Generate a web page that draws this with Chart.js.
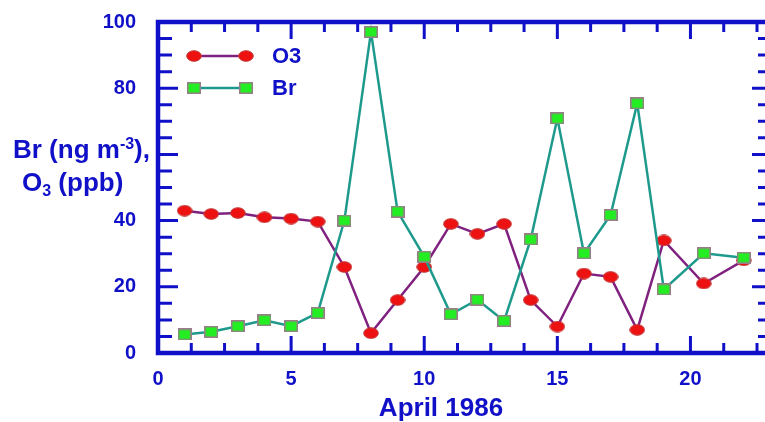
<!DOCTYPE html>
<html>
<head>
<meta charset="utf-8">
<script src="https://cdn.jsdelivr.net/npm/chart.js@4.4.0/dist/chart.umd.min.js"></script>
<style>
  html, body { margin: 0; padding: 0; background: #fff; }
  #wrap { width: 765px; height: 422px; }
</style>
</head>
<body>
<div id="wrap"><canvas id="chart"></canvas></div>
<script>
// days of April 1986
const days = [1, 2, 3, 4, 5, 6, 7, 8, 9, 10, 11, 12, 13, 14, 15, 16, 17, 18, 19, 20.5, 22];
// O3 (ppb)
const o3 = [43, 42, 42.3, 41, 40.6, 39.7, 26, 6, 16, 26, 39, 36, 39, 16, 8, 24, 23, 7, 34, 21, 28];
// Br (ng m-3)
const br = [5.6, 6.4, 8.1, 9.9, 8.1, 12.1, 40, 97, 42.7, 29.1, 11.7, 16.1, 9.7, 34.3, 70.9, 30.1, 41.7, 75.4, 19.2, 30.1, 28.8];

const xTicks = [0, 5, 10, 15, 20];
const yTicks = [0, 20, 40, 80, 100]; // no 60 label, the axis title sits there

const BLUE = '#1010c8';
const FONT = '"Liberation Sans", Arial, sans-serif';

// small canvases used as point markers (ellipse / square)
function marker(w, h, draw) {
  const c = document.createElement('canvas');
  c.width = w;
  c.height = h;
  draw(c.getContext('2d'), w, h);
  return c;
}
const dot = marker(16, 12, (g, w, h) => {
  g.beginPath();
  g.ellipse(w / 2, h / 2, w / 2 - 0.7, h / 2 - 0.7, 0, 0, Math.PI * 2);
  g.fillStyle = '#ee1111';
  g.fill();
  g.lineWidth = 1;
  g.strokeStyle = '#c03a3a';
  g.stroke();
});
const sq = marker(14, 12, (g, w, h) => {
  g.fillStyle = '#9a7d8a';
  g.fillRect(0, 0, w, h);
  g.fillStyle = '#22ee22';
  g.fillRect(1.5, 1.5, w - 3, h - 3);
});

// frame with inward ticks; the right side sits just past the canvas edge
const frame = {
  id: 'frame',
  beforeDatasetsDraw(chart) {
    const { ctx, chartArea: a, scales: { x, y } } = chart;
    const right = a.right + 5;
    ctx.save();
    ctx.strokeStyle = BLUE;
    ctx.lineWidth = 3;
    ctx.beginPath();
    for (let v = 1.25; v <= x.max; v += 1.25) {
      const px = x.getPixelForValue(v);
      const len = v % 5 === 0 ? 17 : 10;
      ctx.moveTo(px, a.bottom); ctx.lineTo(px, a.bottom - len);
      ctx.moveTo(px, a.top); ctx.lineTo(px, a.top + len);
    }
    for (let v = 5; v < y.max; v += 5) {
      const py = y.getPixelForValue(v);
      const len = v % 20 === 0 ? 20 : 14;
      ctx.moveTo(a.left, py); ctx.lineTo(a.left + len, py);
      ctx.moveTo(right, py); ctx.lineTo(right - len + 2, py);
    }
    ctx.stroke();
    ctx.lineWidth = 4.5;
    ctx.strokeRect(a.left, a.top, right - a.left, a.bottom - a.top);
    ctx.restore();
  }
};

function drawRuns(ctx, x, y, runs) {
  for (const r of runs) {
    ctx.font = 'bold ' + r.size + 'px ' + FONT;
    ctx.fillText(r.t, x, y + (r.dy || 0));
    x += ctx.measureText(r.t).width;
  }
}

// axis titles and legend
const labels = {
  id: 'labels',
  afterDraw(chart) {
    const { ctx, chartArea: a } = chart;
    ctx.save();
    ctx.fillStyle = BLUE;
    ctx.textBaseline = 'alphabetic';
    ctx.textAlign = 'left';
    drawRuns(ctx, 13, 158, [
      { t: 'Br (ng m', size: 26 },
      { t: '-3', size: 16, dy: -9 },
      { t: '),', size: 26 }
    ]);
    drawRuns(ctx, 22, 191, [
      { t: 'O', size: 26 },
      { t: '3', size: 16, dy: 5 },
      { t: ' (ppb)', size: 26 }
    ]);
    ctx.textAlign = 'center';
    ctx.font = 'bold 26px ' + FONT;
    ctx.fillText('April 1986', a.left + 283, 416);

    // legend
    const items = [
      { text: 'O3', color: '#80207f', img: dot, y: a.top + 34 },
      { text: 'Br', color: '#1e9a8c', img: sq, y: a.top + 66 }
    ];
    ctx.textAlign = 'left';
    ctx.textBaseline = 'middle';
    ctx.font = 'bold 22px ' + FONT;
    for (const it of items) {
      const x0 = a.left + 36, x1 = a.left + 88;
      ctx.strokeStyle = it.color;
      ctx.lineWidth = 2.5;
      ctx.beginPath();
      ctx.moveTo(x0, it.y); ctx.lineTo(x1, it.y);
      ctx.stroke();
      ctx.drawImage(it.img, x0 - it.img.width / 2, it.y - it.img.height / 2);
      ctx.drawImage(it.img, x1 - it.img.width / 2, it.y - it.img.height / 2);
      ctx.fillText(it.text, a.left + 114, it.y + 1);
    }
    ctx.restore();
  }
};

const tickFont = { family: FONT, size: 20, weight: 'bold' };

new Chart(document.getElementById('chart'), {
  type: 'line',
  data: {
    datasets: [
      {
        label: 'O3',
        data: days.map((d, i) => ({ x: d, y: o3[i] })),
        borderColor: '#80207f',
        borderWidth: 2.5,
        pointStyle: dot,
        pointRadius: 7,
        tension: 0,
        order: 2,
      },
      {
        label: 'Br',
        data: days.map((d, i) => ({ x: d, y: br[i] })),
        borderColor: '#1e9a8c',
        borderWidth: 2.5,
        pointStyle: sq,
        pointRadius: 7,
        tension: 0,
        order: 1,
      },
    ],
  },
  options: {
    responsive: true,
    maintainAspectRatio: false,
    animation: false,
    layout: { autoPadding: false, padding: { top: 22, right: 0, left: 0, bottom: 0 } },
    plugins: { legend: { display: false }, tooltip: { enabled: false } },
    scales: {
      x: {
        type: 'linear',
        min: 0,
        max: 22.8,
        grid: { display: false },
        border: { display: false },
        ticks: { color: BLUE, font: tickFont, padding: 6, maxRotation: 0, autoSkip: false },
        afterBuildTicks: (s) => { s.ticks = xTicks.map((v) => ({ value: v })); },
        afterFit: (s) => { s.height = 69; s.paddingLeft = 0; s.paddingRight = 0; },
      },
      y: {
        min: 0,
        max: 100,
        grid: { display: false },
        border: { display: false },
        ticks: { color: BLUE, font: tickFont, padding: 14 },
        afterBuildTicks: (s) => { s.ticks = yTicks.map((v) => ({ value: v })); },
        afterFit: (s) => { s.width = 158; s.paddingTop = 0; s.paddingBottom = 0; },
      },
    },
  },
  plugins: [frame, labels],
});
</script>
</body>
</html>
